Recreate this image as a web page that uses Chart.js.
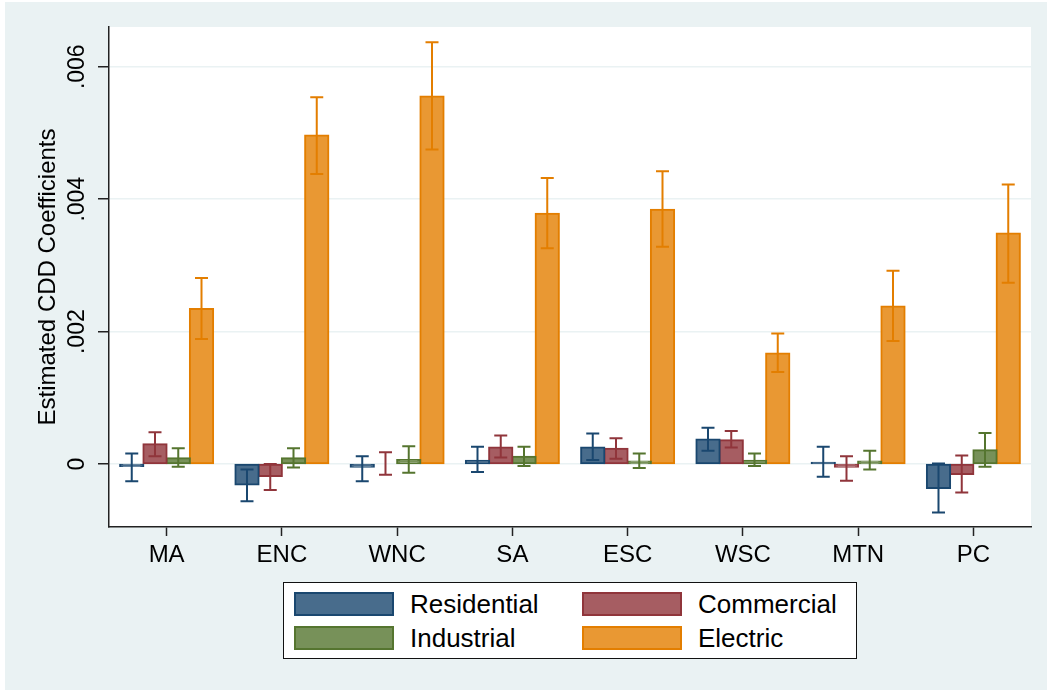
<!DOCTYPE html>
<html>
<head>
<meta charset="utf-8">
<script src="https://cdn.jsdelivr.net/npm/chart.js@4.4.1/dist/chart.umd.min.js"></script>
<style>
  html, body { margin: 0; padding: 0; background: #fff; }
  #wrap { position: relative; width: 1047px; height: 690px; }
  #legend {
    position: absolute; left: 283px; top: 582px; width: 572px; height: 75px;
    background: #fff; border: 1.5px solid #111;
    font-family: "Liberation Sans", Arial, sans-serif; font-size: 26px; color: #000;
  }
  .item { position: absolute; height: 24px; }
  .sw { position: absolute; left: 0; top: 0; width: 96px; height: 20px; border: 2px solid; }
  .lbl { position: absolute; left: 116px; top: -3px; white-space: nowrap; line-height: 30px; }
</style>
</head>
<body>
<div id="wrap">
  <canvas id="chart" width="1047" height="690"></canvas>
  <div id="legend"></div>
</div>
<script>
// region labels
const categories = ['MA', 'ENC', 'WNC', 'SA', 'ESC', 'WSC', 'MTN', 'PC'];

// point estimates
const residential = [-0.00003, -0.00031, -0.00004, 0.00005, 0.00025, 0.00037, 0.00002, -0.00036];
const commercial = [0.00030, -0.00018, 0.00000, 0.00025, 0.00023, 0.00036, -0.00004, -0.00015];
const industrial = [0.00009, 0.00009, 0.00006, 0.00011, 0.00004, 0.00005, 0.00004, 0.00021];
const electric = [0.00234, 0.00496, 0.00555, 0.00378, 0.00384, 0.00167, 0.00238, 0.00348];

// confidence interval bounds
const residentialLo = [-0.00026, -0.00056, -0.00026, -0.00012, 0.00006, 0.00020, -0.00019, -0.00073];
const residentialHi = [0.00016, -0.00008, 0.00012, 0.00026, 0.00046, 0.00055, 0.00026, 0.00001];
const commercialLo = [0.00012, -0.00039, -0.00016, 0.00010, 0.00008, 0.00025, -0.00025, -0.00043];
const commercialHi = [0.00048, 0.00000, 0.00018, 0.00043, 0.00039, 0.00050, 0.00012, 0.00013];
const industrialLo = [-0.00004, -0.00005, -0.00013, -0.00003, -0.00006, -0.00003, -0.00008, -0.00004];
const industrialHi = [0.00024, 0.00024, 0.00027, 0.00026, 0.00016, 0.00016, 0.00020, 0.00047];
const electricLo = [0.00189, 0.00438, 0.00475, 0.00326, 0.00328, 0.00139, 0.00186, 0.00274];
const electricHi = [0.00281, 0.00554, 0.00637, 0.00432, 0.00442, 0.00197, 0.00292, 0.00422];

// y axis ticks
const yTicks = [0, 0.002, 0.004, 0.006];
const yTickLabels = ['0', '.002', '.004', '.006'];

const BG = '#EAF2F3';
const FONT = '"Liberation Sans", Arial, sans-serif';

const series = [
  { label: 'Residential', data: residential, lo: residentialLo, hi: residentialHi, fill: '#486C8C', line: '#1A476F' },
  { label: 'Commercial', data: commercial, lo: commercialLo, hi: commercialHi, fill: '#A65D62', line: '#90353B' },
  { label: 'Industrial', data: industrial, lo: industrialLo, hi: industrialHi, fill: '#779159', line: '#55752F' },
  { label: 'Electric', data: electric, lo: electricLo, hi: electricHi, fill: '#E99833', line: '#E37E00' },
];

const backdrop = {
  id: 'backdrop',
  beforeDraw(chart) {
    const { ctx, chartArea: a } = chart;
    ctx.save();
    ctx.fillStyle = '#fff';
    ctx.fillRect(0, 0, chart.width, chart.height);
    ctx.fillStyle = BG;
    ctx.fillRect(5, 2, chart.width - 5, chart.height - 2);
    ctx.fillStyle = '#fff';
    ctx.fillRect(a.left, a.top, a.right - a.left, a.bottom - a.top);
    ctx.restore();
  }
};

const errorBars = {
  id: 'errorBars',
  afterDatasetsDraw(chart) {
    const { ctx } = chart;
    const y = chart.scales.y;
    ctx.save();
    ctx.lineWidth = 2;
    series.forEach((s, i) => {
      const meta = chart.getDatasetMeta(i);
      ctx.strokeStyle = s.line;
      meta.data.forEach((bar, j) => {
        const yl = y.getPixelForValue(s.lo[j]);
        const yh = y.getPixelForValue(s.hi[j]);
        const x = bar.x;
        const cap = 6.5;
        ctx.beginPath();
        ctx.moveTo(x, yl); ctx.lineTo(x, yh);
        ctx.moveTo(x - cap, yl); ctx.lineTo(x + cap, yl);
        ctx.moveTo(x - cap, yh); ctx.lineTo(x + cap, yh);
        ctx.stroke();
      });
    });
    ctx.restore();
  },
  afterDraw(chart) {
    const { ctx, chartArea: a } = chart;
    const y = chart.scales.y;
    ctx.save();
    ctx.fillStyle = '#000';
    ctx.font = '23px ' + FONT;
    ctx.textAlign = 'center';
    ctx.textBaseline = 'middle';
    yTicks.forEach((v, i) => {
      ctx.save();
      ctx.translate(78, y.getPixelForValue(v));
      ctx.rotate(-Math.PI / 2);
      ctx.fillText(yTickLabels[i], 0, 0);
      ctx.restore();
    });
    ctx.font = '24px ' + FONT;
    ctx.translate(48, (a.top + a.bottom) / 2);
    ctx.rotate(-Math.PI / 2);
    ctx.fillText('Estimated CDD Coefficients', 0, 0);
    ctx.restore();
  }
};

new Chart(document.getElementById('chart'), {
  type: 'bar',
  data: {
    labels: categories,
    datasets: series.map(s => ({
      label: s.label,
      data: s.data,
      backgroundColor: s.fill,
      borderColor: s.line,
      borderWidth: 2,
      borderSkipped: false,
      inflateAmount: 1,
      categoryPercentage: 0.807,
      barPercentage: 1.0,
    })),
  },
  options: {
    responsive: false,
    animation: false,
    layout: { padding: { left: 0, top: 27, right: 16, bottom: 0 } },
    plugins: { legend: { display: false }, tooltip: { enabled: false } },
    scales: {
      x: {
        afterFit: s => { s.height = 163; },
        grid: { display: true, offset: false, drawOnChartArea: false, tickLength: 9, tickColor: '#222', tickWidth: 1.5 },
        border: { display: true, color: '#222', width: 1.5 },
        ticks: { color: '#000', font: { family: FONT, size: 24 }, padding: 5, maxRotation: 0 },
      },
      y: {
        min: -0.00095,
        max: 0.0066,
        afterFit: s => { s.width = 109; },
        afterBuildTicks: s => { s.ticks = yTicks.map(v => ({ value: v })); },
        grid: { color: BG, lineWidth: 1.5, tickLength: 11, tickColor: '#222', tickWidth: 1.5 },
        border: { display: true, color: '#222', width: 1.5 },
        ticks: { display: false },
      },
    },
  },
  plugins: [backdrop, errorBars],
});

// legend, two columns
const legend = document.getElementById('legend');
series.forEach((s, i) => {
  const el = document.createElement('div');
  el.className = 'item';
  el.style.left = (10 + (i % 2) * 288) + 'px';
  el.style.top = (9 + Math.floor(i / 2) * 34) + 'px';
  el.innerHTML = `<div class="sw" style="background:${s.fill};border-color:${s.line}"></div><div class="lbl">${s.label}</div>`;
  legend.appendChild(el);
});
</script>
</body>
</html>
